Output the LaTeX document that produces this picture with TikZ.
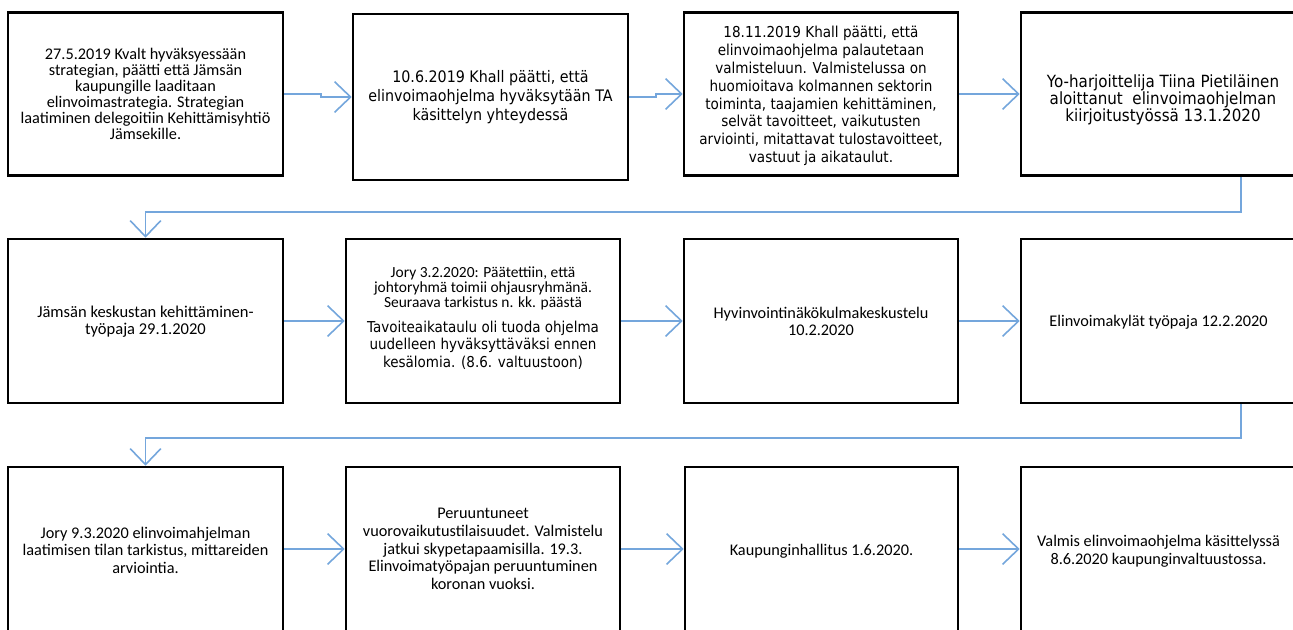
\documentclass[tikz,border=0pt]{standalone}
\usepackage{fontspec}
\setmainfont{Carlito}
\newfontfamily\tah{DejaVu Sans}[FakeStretch=0.9]
\usetikzlibrary{arrows.meta}
\definecolor{conn}{RGB}{116,166,220}
\begin{document}
\begin{tikzpicture}[x=0.75pt,y=-0.75pt,
  box/.style 2 args={draw=black,line width=1.9pt,fill=none,inner sep=0pt,
     minimum width=#1*0.75pt,minimum height=#2*0.75pt},
  txt/.style={align=center,inner sep=0pt},
  cal/.style={font=\fontsize{12.2}{12}\selectfont},
  conn/.style={draw=conn,line width=1.3pt,-{Straight Barb[length=12pt,width=23pt,line width=1.2pt]}}
]
\useasboundingbox (0,0) rectangle (1293,629);
% row 1
\node[box={275}{163}] (b1) at (145.5,94) {};
\node[box={275}{166}] (b2) at (490.5,97) {};
\node[box={274}{163}] (b3) at (821,94) {};
\node[box={275}{163}] (b4) at (1158.5,94) {};
% row 2
\node[box={275}{164}] (b5) at (145.5,321) {};
\node[box={274}{164}] (b6) at (483,321) {};
\node[box={274}{164}] (b7) at (821,321) {};
\node[box={275}{164}] (b8) at (1158.5,321) {};
% row 3
\node[box={275}{164}] (b9) at (145.5,549) {};
\node[box={274}{164}] (b10) at (483,549) {};
\node[box={273}{164}] (b11) at (821.5,549) {};
\node[box={275}{164}] (b12) at (1158.5,549) {};

% texts
\node[txt,font=\fontsize{12.2}{11.9}\selectfont] (t1) at (145.5,94) {27.5.2019 Kvalt hyväksyessään\\strategian, päätti että Jämsän\\kaupungille laaditaan\\elinvoimastrategia. Strategian\\laatiminen delegoitiin Kehittämisyhtiö\\Jämsekille.};
\node[txt,font=\tah\fontsize{11.9}{14}\selectfont] (t2) at (490.5,97) {10.6.2019 Khall päätti, että\\elinvoimaohjelma hyväksytään TA\\käsittelyn yhteydessä};
\node[txt,font=\tah\fontsize{11.3}{13.4}\selectfont] (t3) at (821,96) {18.11.2019 Khall päätti, että\\elinvoimaohjelma palautetaan\\valmisteluun. Valmistelussa on\\huomioitava kolmannen sektorin\\toiminta, taajamien kehittäminen,\\selvät tavoitteet, vaikutusten\\arviointi, mitattavat tulostavoitteet,\\vastuut ja aikataulut.};
\node[txt,font=\tah\fontsize{12.6}{12.75}\selectfont] (t4) at (1163,100) {Yo-harjoittelija Tiina Pietiläinen\\aloittanut\ \ elinvoimaohjelman\\kiirjoitustyössä 13.1.2020};

\node[txt,font=\fontsize{12.4}{12.5}\selectfont] (t5) at (145.5,322) {Jämsän keskustan kehittäminen-\\työpaja 29.1.2020};
\node[txt,font=\fontsize{11.6}{11.25}\selectfont] (t6a) at (483,288) {Jory 3.2.2020: Päätettiin, että\\johtoryhmä toimii ohjausryhmänä.\\Seuraava tarkistus n. kk. päästä};
\node[txt,font=\tah\fontsize{11.25}{13.1}\selectfont] (t6b) at (483,345) {Tavoiteaikataulu oli tuoda ohjelma\\uudelleen hyväksyttäväksi ennen\\kesälomia. (8.6. valtuustoon)};
\node[txt,font=\fontsize{12.2}{12.75}\selectfont] (t7) at (821,321) {Hyvinvointinäkökulmakeskustelu\\10.2.2020};
\node[txt,cal] (t8) at (1158.5,322) {Elinvoimakylät työpaja 12.2.2020};

\node[txt,font=\fontsize{12.2}{13.1}\selectfont] (t9) at (145.5,550) {Jory 9.3.2020 elinvoimahjelman\\laatimisen tilan tarkistus, mittareiden\\arviointia.};
\node[txt,font=\fontsize{12.2}{13.3}\selectfont] (t10) at (483,549) {Peruuntuneet\\vuorovaikutustilaisuudet. Valmistelu\\jatkui skypetapaamisilla. 19.3.\\Elinvoimatyöpajan peruuntuminen\\koronan vuoksi.};
\node[txt,cal] (t11) at (821.5,551) {Kaupunginhallitus 1.6.2020.};
\node[txt,font=\fontsize{12.2}{13.3}\selectfont] (t12) at (1158.5,551) {Valmis elinvoimaohjelma käsittelyssä\\8.6.2020 kaupunginvaltuustossa.};

% connectors row 1
\draw[conn] (b1.east) -- ++(37,0) |- (b2.west);
\draw[conn] (b2.east) -- ++(27,0) |- (b3.west);
\draw[conn] (b3.east) -- (b4.west);
% row 1 -> row 2
\draw[conn] ([xshift=61.9pt]b4.south) -- ++(0,35) -| (b5.north);
% row 2
\draw[conn] (b5.east) -- (b6.west);
\draw[conn] (b6.east) -- (b7.west);
\draw[conn] (b7.east) -- (b8.west);
% row 2 -> row 3
\draw[conn] ([xshift=61.9pt]b8.south) -- ++(0,34) -| (b9.north);
% row 3
\draw[conn] (b9.east) -- (b10.west);
\draw[conn] (b10.east) -- (b11.west);
\draw[conn] (b11.east) -- (b12.west);
\end{tikzpicture}
\end{document}
